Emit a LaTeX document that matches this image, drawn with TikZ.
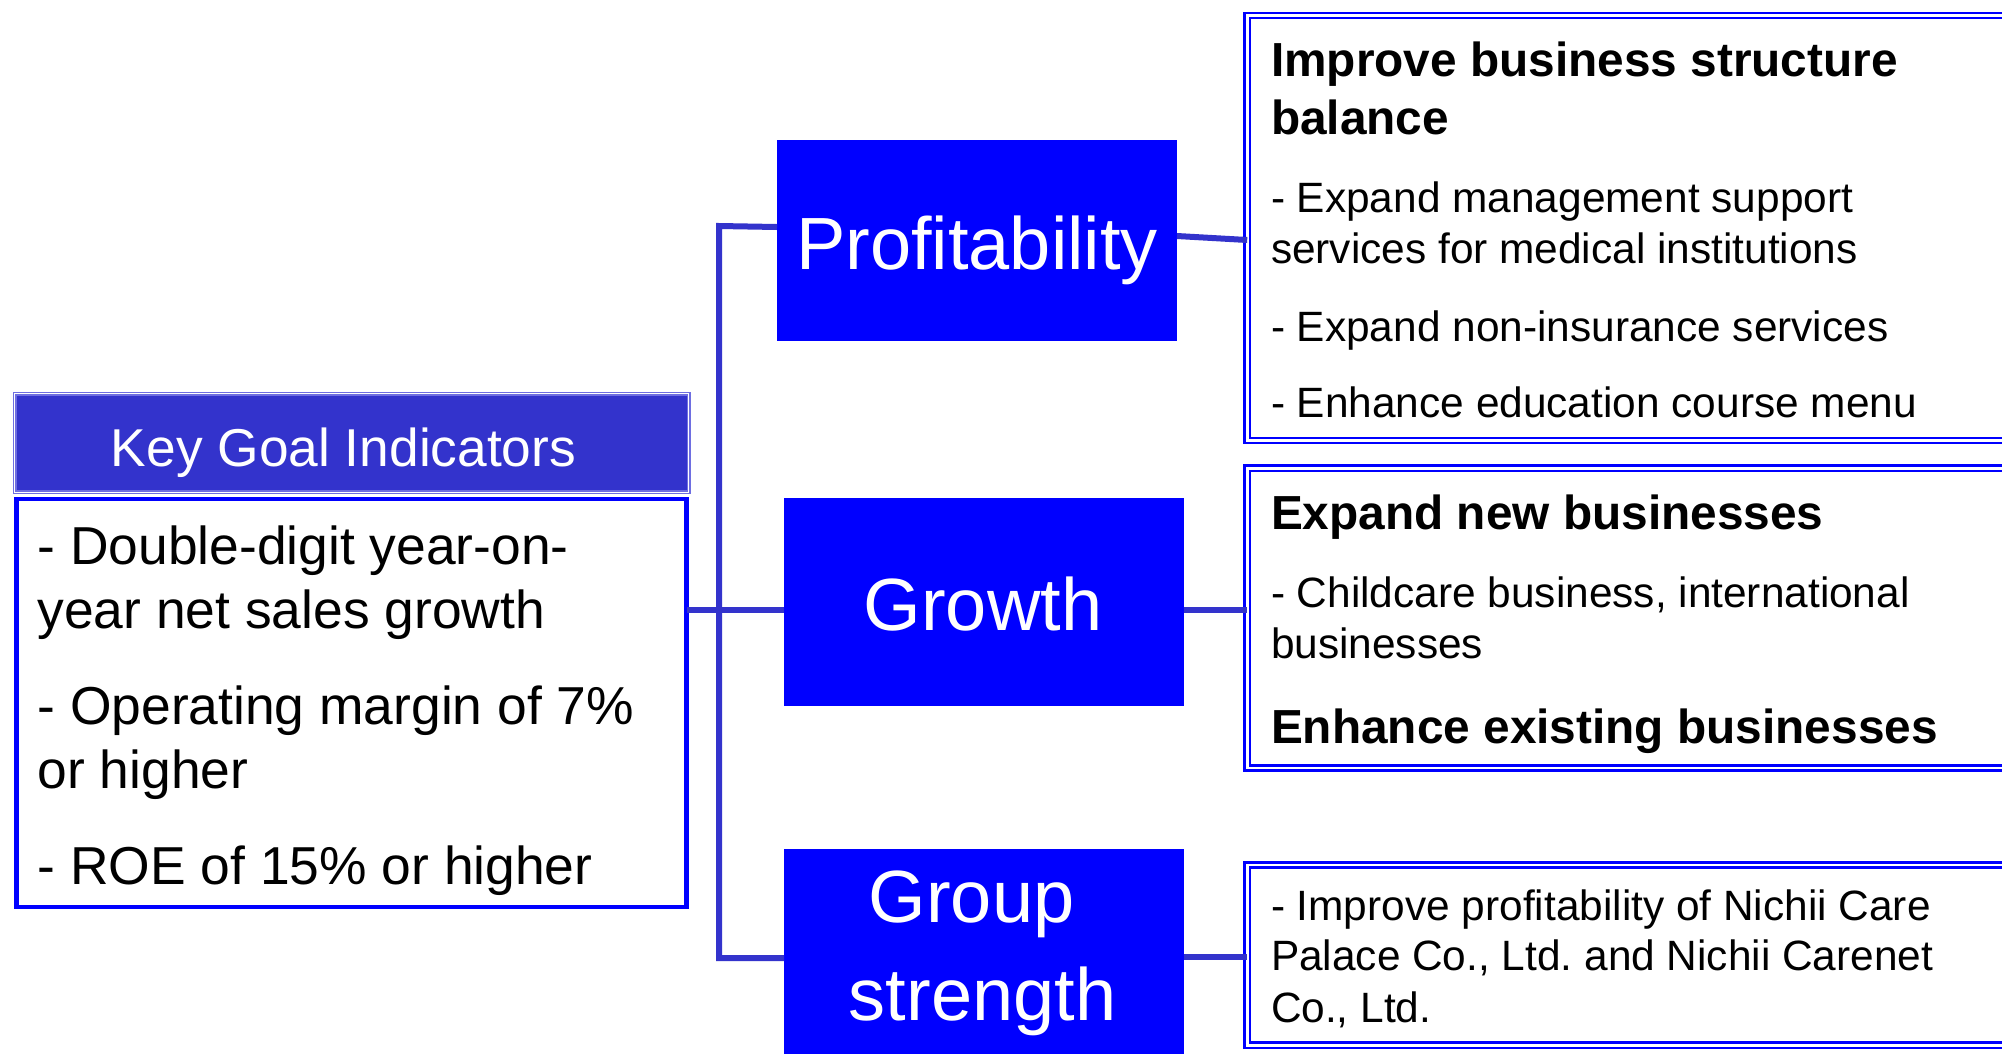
\documentclass[tikz,border=0pt]{standalone}
\usepackage{fontspec}
\setmainfont{Liberation Sans}
\frenchspacing
\definecolor{pureblue}{RGB}{0,0,255}
\definecolor{linkblue}{RGB}{51,51,204}
\definecolor{rimblue}{RGB}{110,110,225}
\begin{document}
\begin{tikzpicture}[x=1pt,y=-1pt,
  every node/.style={inner sep=0pt,outer sep=0pt},
  link/.style={draw=linkblue,line width=6pt},
  pillar/.style={rectangle,fill=pureblue,minimum width=400pt},
  frame/.style={rectangle,draw=pureblue,double=white,line width=2.5pt,double distance=2.7pt,minimum width=770pt},
  pillartext/.style={anchor=base,text=white,font=\fontsize{74}{88}\selectfont},
  goaltext/.style={anchor=base west,font=\fontsize{53.4}{64}\selectfont},
  itemtext/.style={anchor=base west,font=\fontsize{42.4}{51}\selectfont},
  headtext/.style={anchor=base west,font=\bfseries\fontsize{47.8}{57}\selectfont},
]
\clip (0,0) rectangle (2002,1053);
\fill[white] (0,0) rectangle (2002,1053);

% key goal indicators: title bar and list box
\node[rectangle,fill=linkblue,draw=rimblue,double=white,line width=1.5pt,double distance=1pt,
      minimum width=674pt,minimum height=98.6pt] (kgihead) at (351.7,443) {};
\node[rectangle,draw=pureblue,line width=4.7pt,minimum width=670pt,minimum height=408pt] (kgibody) at (351.65,703) {};
\node[anchor=base,text=white,font=\fontsize{53.3}{64}\selectfont] (kgititle) at (343.5,466) {Key Goal Indicators};
\node[goaltext] (kg1) at (37.5,564) {- Double-digit year-on-};
\node[goaltext] (kg2) at (37.5,628) {year net sales growth};
\node[goaltext] (kg3) at (37.5,724) {- Operating margin of 7\%};
\node[goaltext] (kg4) at (37.5,788) {or higher};
\node[goaltext] (kg5) at (37.5,884) {- ROE of 15\% or higher};

% the three pillars
\node[pillar,minimum height=201pt] (prof) at (977,240.5) {};
\node[pillar,minimum height=208pt] (grow) at (984,602) {};
\node[pillar,minimum height=212pt] (grp) at (984,955) {};

% detail frames on the right
\node[frame,minimum height=424.9pt] (det1) at (1632.2,228) {};
\node[frame,minimum height=299.7pt] (det2) at (1632.2,618) {};
\node[frame,minimum height=180.3pt] (det3) at (1632.2,955) {};

% connectors
\draw[link] (prof.west |- 0,227) -- (719,226) -- (719,958) -- (grp.west |- 0,958);
\draw[link] (kgibody.east |- 0,610) -- (grow.west |- 0,610);
\draw[link] (prof.east |- 0,236) -- (det1.west |- 0,240);
\draw[link] (grow.east |- 0,610) -- (det2.west |- 0,610);
\draw[link] (grp.east |- 0,957) -- (det3.west |- 0,957);

% pillar labels
\node[pillartext] (proftext) at (977,269) {Profitability};
\node[pillartext] (growtext) at (983,630) {Growth};
\node[pillartext] (grptext1) at (971.5,922) {Group};
\node[pillartext] (grptext2) at (982.5,1020) {strength};

% frame texts
\node[headtext] (d1h1) at (1271,76) {Improve business structure};
\node[headtext] (d1h2) at (1271,134) {balance};
\node[itemtext] (d1i1) at (1271,212) {- Expand management support};
\node[itemtext] (d1i2) at (1271,263) {services for medical institutions};
\node[itemtext] (d1i3) at (1271,341) {- Expand non-insurance services};
\node[itemtext] (d1i4) at (1271,417) {- Enhance education course menu};

\node[headtext] (d2h1) at (1271,529) {Expand new businesses};
\node[itemtext] (d2i1) at (1271,607) {- Childcare business, international};
\node[itemtext] (d2i2) at (1271,658) {businesses};
\node[headtext] (d2h2) at (1271,743) {Enhance existing businesses};

\node[itemtext] (d3i1) at (1271,920) {- Improve profitability of Nichii Care};
\node[itemtext] (d3i2) at (1271,970) {Palace Co., Ltd. and Nichii Carenet};
\node[itemtext] (d3i3) at (1271,1022) {Co., Ltd.};
\end{tikzpicture}
\end{document}
